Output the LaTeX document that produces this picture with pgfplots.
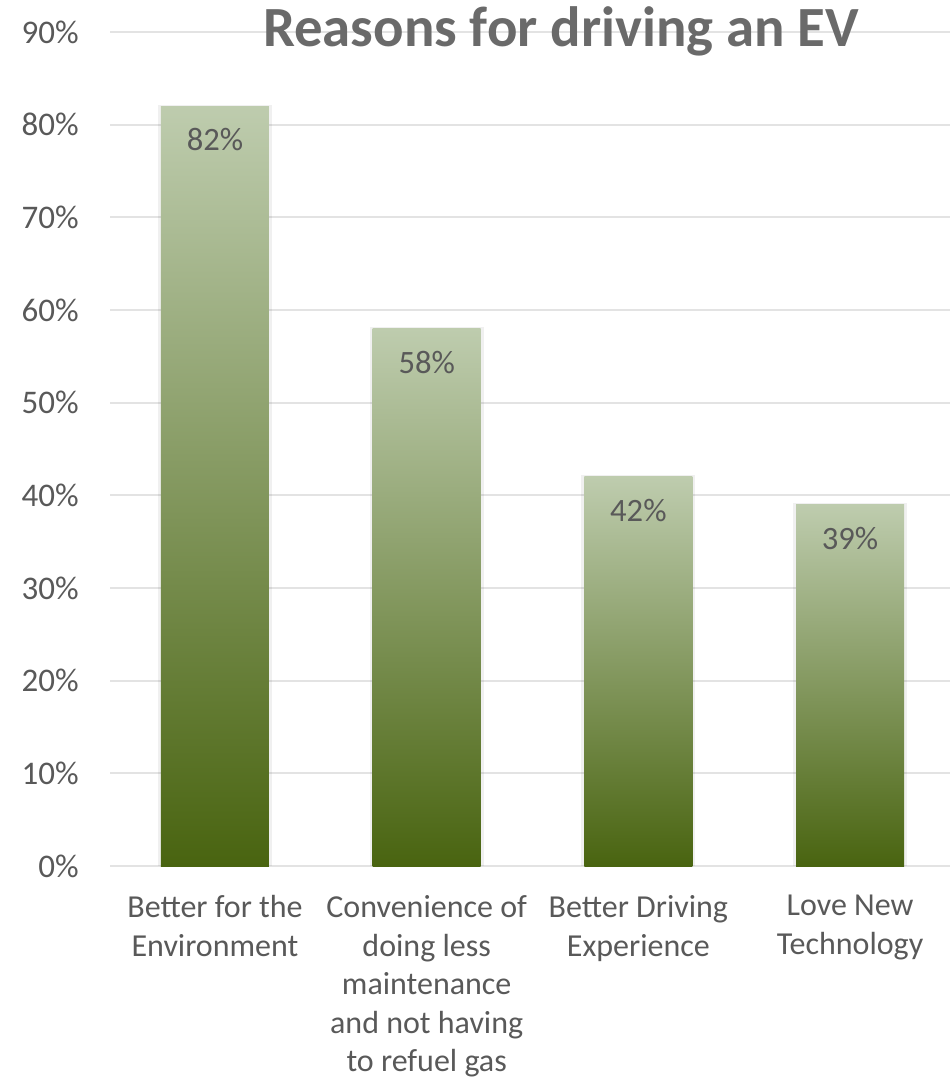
\documentclass[border=0pt]{standalone}
\usepackage{pgfplots}
\pgfplotsset{compat=1.18}
\usepackage{fontspec}
\setmainfont{Carlito}
\definecolor{txt}{HTML}{595959}
\definecolor{ttl}{HTML}{6A6A6A}
\definecolor{gridc}{HTML}{E3E3E3}
\definecolor{barTop}{HTML}{BECCAE}
\definecolor{barBot}{HTML}{496410}
\pgfplotsset{
  evbar/.style={ybar, bar shift=0pt, bar width=54pt, draw=none, top color=barTop, bottom color=barBot,
    nodes near coords={\pgfmathprintnumber{\pgfplotspointmeta}\%},
    every node near coord/.append style={anchor=north, inner sep=0pt, yshift=-11pt, font=\fontsize{16.3}{19.6}\selectfont, text=txt}},
  shbar/.style={ybar, bar shift=0pt, bar width=57pt, draw=none, fill=black, fill opacity=0.06},
}
\begin{document}
\begin{tikzpicture}
\useasboundingbox (-55pt,-106pt) rectangle (420pt,433pt);
\begin{axis}[
  at={(0,0)}, anchor=south west,
  scale only axis, width=420pt, height=417pt,
  xmin=-0.496, xmax=3.472, ymin=0, ymax=90,
  ytick={0,10,...,90},
  yticklabel={\pgfmathprintnumber{\tick}\%},
  /pgf/number format/assume math mode=true,
  ymajorgrids, grid style={draw=gridc, line width=0.9pt},
  axis line style={draw=none},
  major tick length=0pt,
  xtick={0,1,2,3},
  xticklabels={{Better for the\\Environment},{Convenience of\\doing less\\maintenance\\and not having\\to refuel gas},{Better Driving\\Experience},{Love New\\Technology}},
  xticklabel style={align=center, anchor=north, inner sep=0pt, yshift=-14.5pt, font=\fontsize{16}{19.3}\selectfont, text=txt},
  yticklabel style={anchor=east, inner sep=0pt, xshift=-15.5pt, font=\fontsize{16.5}{19.6}\selectfont, text=txt},
  clip=false,
]
\addplot[shbar] coordinates {(0,82.15)};
\addplot[shbar] coordinates {(1,58.15)};
\addplot[shbar] coordinates {(2,42.15)};
\addplot[shbar] coordinates {(3,39.15)};
\addplot[evbar] coordinates {(0,82)};
\addplot[evbar] coordinates {(1,58)};
\addplot[evbar] coordinates {(2,42)};
\addplot[evbar] coordinates {(3,39)};
\end{axis}
\node[anchor=base, font=\fontsize{28.4}{34}\selectfont\bfseries, text=ttl] at (225.5pt,409.5pt) {Reasons for driving an EV};
\end{tikzpicture}
\end{document}
